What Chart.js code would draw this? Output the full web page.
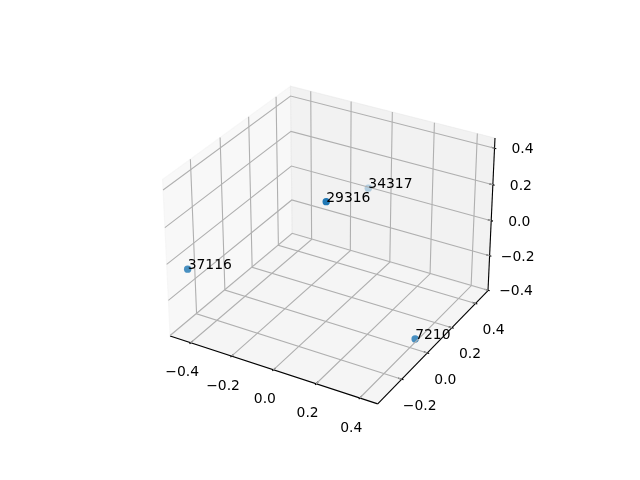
<!DOCTYPE html>
<html>
<head>
<meta charset="utf-8">
<style>
  html, body { margin: 0; padding: 0; background: #fff; }
  canvas { display: block; }
</style>
<script src="https://cdn.jsdelivr.net/npm/chart.js@4"></script>
</head>
<body>
<canvas id="chart" width="640" height="480"></canvas>
<script>
// data
const pointLabels = ["37116", "29316", "34317", "7210"];
const xValues = [-0.411, 0.098, -0.101, 0.458];
const yValues = [-0.365, -0.147, 0.49, -0.061];
const zValues = [-0.005, 0.388, 0.008, -0.289];

const xTicks = [-0.4, -0.2, 0.0, 0.2, 0.4];
const yTicks = [-0.2, 0.0, 0.2, 0.4];
const zTicks = [-0.4, -0.2, 0.0, 0.2, 0.4];

const xLim = [-0.502, 0.481];
const yLim = [-0.38, 0.508];
const zLim = [-0.403, 0.455];

// 3d camera, same setup as a default mplot3d axes (elev 30, azim -60)
const elev = 30 * Math.PI / 180;
const azim = -60 * Math.PI / 180;
const dist = 10;
const k = 1.8294640721620434 * 25 / 24 / Math.sqrt(41);
const box = [4 * k, 4 * k, 3 * k];

const dir = [Math.cos(elev) * Math.cos(azim), Math.cos(elev) * Math.sin(azim), Math.sin(elev)];
const eye = box.map((b, i) => b / 2 + dist * dir[i]);
const uAxis = [Math.sin(-azim), Math.cos(azim), 0];
const vAxis = [
  dir[1] * uAxis[2] - dir[2] * uAxis[1],
  dir[2] * uAxis[0] - dir[0] * uAxis[2],
  dir[0] * uAxis[1] - dir[1] * uAxis[0]
];
const dot = (a, b) => a[0] * b[0] + a[1] * b[1] + a[2] * b[2];

function toView(x, y, z) {
  const p = [
    (x - xLim[0]) / (xLim[1] - xLim[0]) * box[0] - eye[0],
    (y - yLim[0]) / (yLim[1] - yLim[0]) * box[1] - eye[1],
    (z - zLim[0]) / (zLim[1] - zLim[0]) * box[2] - eye[2]
  ];
  return [dot(p, uAxis), dot(p, vAxis), dot(p, dir)];
}

function project(x, y, z) {
  const v = toView(x, y, z);
  return { x: v[0] / -v[2], y: v[1] / -v[2] };
}

function line(points, color, width) {
  return {
    data: points.map(p => project(p[0], p[1], p[2])),
    showLine: true,
    borderColor: color,
    borderWidth: width,
    pointRadius: 0,
    fill: false,
    clip: false
  };
}

const gridColor = "#b0b0b0";
const datasets = [];

// grid lines on the three panes
xTicks.forEach(t => datasets.push(line([[t, yLim[0], zLim[0]], [t, yLim[1], zLim[0]], [t, yLim[1], zLim[1]]], gridColor, 1.1)));
yTicks.forEach(t => datasets.push(line([[xLim[1], t, zLim[0]], [xLim[0], t, zLim[0]], [xLim[0], t, zLim[1]]], gridColor, 1.1)));
zTicks.forEach(t => datasets.push(line([[xLim[0], yLim[0], t], [xLim[0], yLim[1], t], [xLim[1], yLim[1], t]], gridColor, 1.1)));

// axis lines
datasets.push(line([[xLim[0], yLim[0], zLim[0]], [xLim[1], yLim[0], zLim[0]]], "#000", 1.1));
datasets.push(line([[xLim[1], yLim[0], zLim[0]], [xLim[1], yLim[1], zLim[0]]], "#000", 1.1));
datasets.push(line([[xLim[1], yLim[1], zLim[0]], [xLim[1], yLim[1], zLim[1]]], "#000", 1.1));

// tick marks
const xr = xLim[1] - xLim[0], yr = yLim[1] - yLim[0];
const tickIn = 0.2 / 12, tickOut = 0.1 / 12;
xTicks.forEach(t => datasets.push(line([[t, yLim[0] - yr * tickOut, zLim[0]], [t, yLim[0] + yr * tickIn, zLim[0]]], "#000", 1.1)));
yTicks.forEach(t => datasets.push(line([[xLim[1] + xr * tickOut, t, zLim[0]], [xLim[1] - xr * tickIn, t, zLim[0]]], "#000", 1.1)));
zTicks.forEach(t => datasets.push(line([[xLim[1] + xr * tickOut, yLim[1], t], [xLim[1] - xr * tickIn, yLim[1], t]], "#000", 1.1)));

// scatter points, depth shaded
const depths = pointLabels.map((_, i) => toView(xValues[i], yValues[i], zValues[i])[2]);
const dMin = Math.min(...depths), dMax = Math.max(...depths);
datasets.push({
  data: pointLabels.map((_, i) => project(xValues[i], yValues[i], zValues[i])),
  backgroundColor: depths.map(d => `rgba(31,119,180,${0.3 + 0.7 * (d - dMin) / (dMax - dMin)})`),
  borderWidth: 0,
  pointRadius: 3.7,
  clip: false
});

const fmt = t => t.toFixed(1).replace("-", "\u2212");

const panesPlugin = {
  id: "panes",
  beforeDatasetsDraw(chart) {
    const { ctx, scales } = chart;
    const poly = (corners, color) => {
      ctx.beginPath();
      corners.forEach(c => {
        const p = project(c[0], c[1], c[2]);
        ctx.lineTo(scales.x.getPixelForValue(p.x), scales.y.getPixelForValue(p.y));
      });
      ctx.closePath();
      ctx.fillStyle = color;
      ctx.strokeStyle = color;
      ctx.lineWidth = 1.1;
      ctx.fill();
      ctx.stroke();
    };
    const [x0, x1] = xLim, [y0, y1] = yLim, [z0, z1] = zLim;
    poly([[x0, y0, z0], [x0, y1, z0], [x0, y1, z1], [x0, y0, z1]], "rgba(242,242,242,0.5)");
    poly([[x0, y1, z0], [x1, y1, z0], [x1, y1, z1], [x0, y1, z1]], "rgba(230,230,230,0.5)");
    poly([[x0, y0, z0], [x1, y0, z0], [x1, y1, z0], [x0, y1, z0]], "rgba(236,236,236,0.5)");
  }
};

const textPlugin = {
  id: "texts",
  afterDatasetsDraw(chart) {
    const { ctx, scales } = chart;
    const at = (x, y, z) => {
      const p = project(x, y, z);
      return [scales.x.getPixelForValue(p.x), scales.y.getPixelForValue(p.y)];
    };
    ctx.save();
    ctx.fillStyle = "#000";
    ctx.font = "13.9px 'DejaVu Sans'";

    // tick labels
    ctx.textAlign = "center";
    ctx.textBaseline = "middle";
    xTicks.forEach(t => {
      const p = at(t, yLim[0], zLim[0]);
      ctx.fillText(fmt(t), p[0] - 8.5, p[1] + 30);
    });
    yTicks.forEach(t => {
      const p = at(xLim[1], t, zLim[0]);
      ctx.fillText(fmt(t), p[0] + 18, p[1] + 27);
    });
    zTicks.forEach(t => {
      const p = at(xLim[1], yLim[1], t);
      ctx.fillText(fmt(t), p[0] + 28, p[1] + 1.5);
    });

    // point labels
    ctx.textAlign = "left";
    ctx.textBaseline = "alphabetic";
    pointLabels.forEach((label, i) => {
      const p = at(xValues[i], yValues[i], zValues[i]);
      ctx.fillText(label, p[0], p[1]);
    });
    ctx.restore();
  }
};

new Chart(document.getElementById("chart"), {
  type: "scatter",
  data: { datasets },
  options: {
    responsive: false,
    animation: false,
    layout: { padding: { left: 135.2, right: 135.2, top: 57.6, bottom: 52.8 } },
    plugins: { legend: { display: false }, tooltip: { enabled: false } },
    scales: {
      x: { display: false, min: -0.0985, max: 0.0865 },
      y: { display: false, min: -0.95 / dist, max: 0.9 / dist }
    }
  },
  plugins: [panesPlugin, textPlugin]
});
</script>
</body>
</html>
